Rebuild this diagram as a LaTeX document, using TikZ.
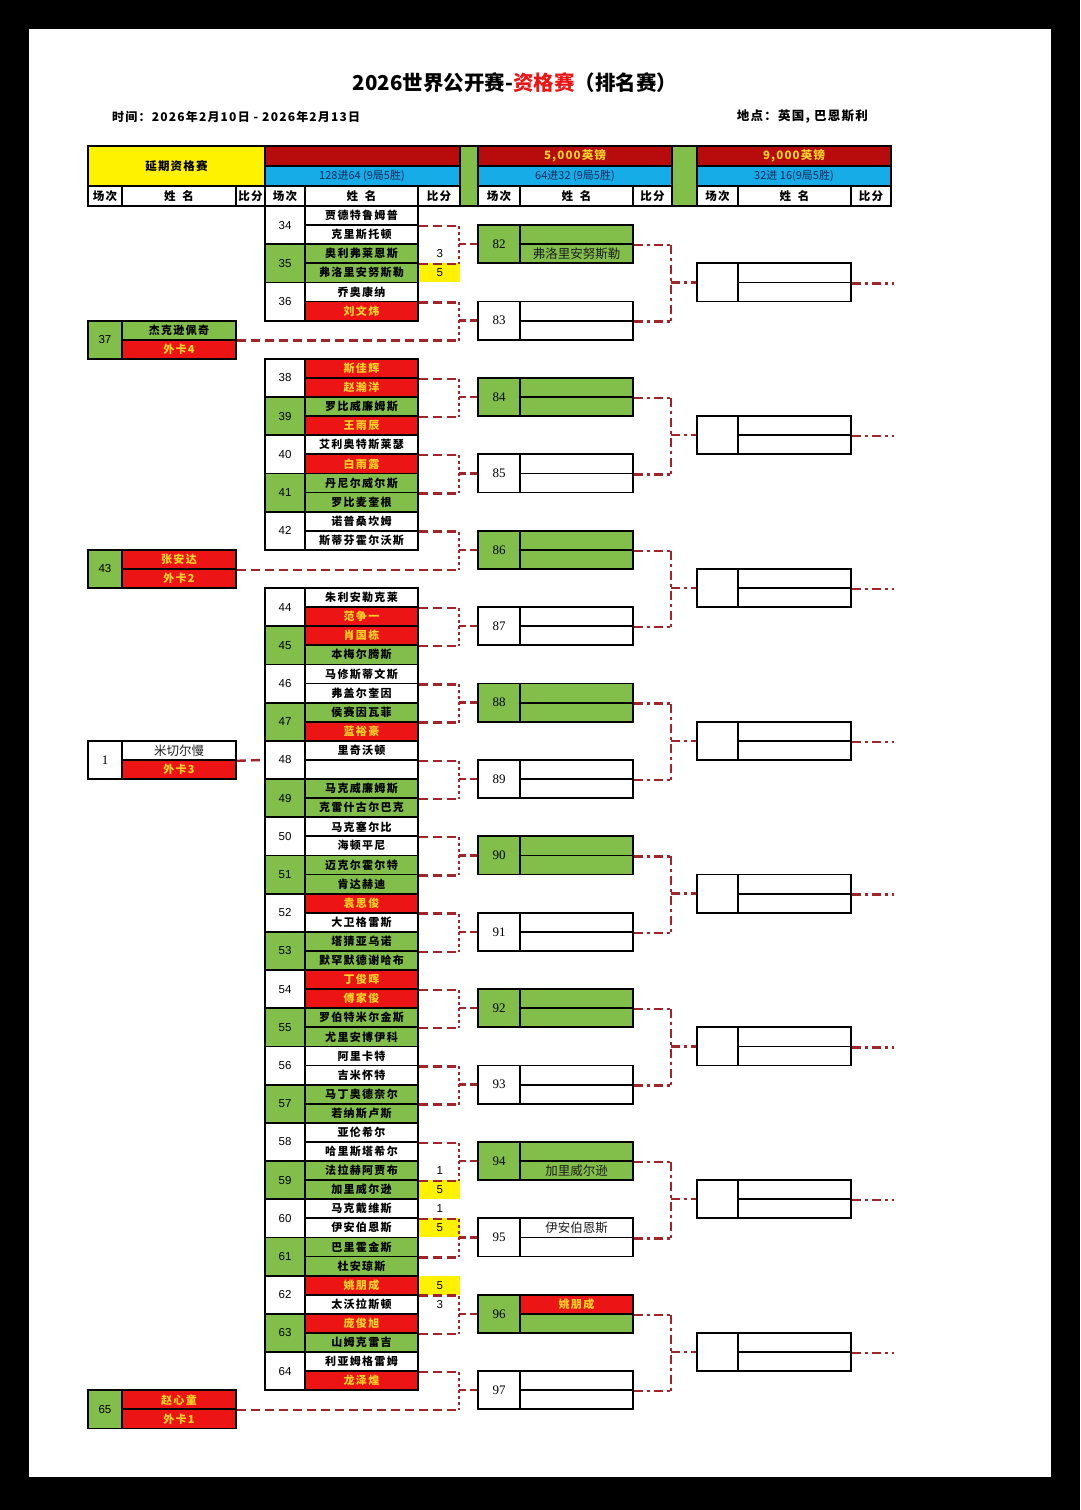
\documentclass[tikz,border=0pt]{standalone}
\usepackage{fontspec}
\setmainfont{Liberation Sans}
\newfontfamily\cjk[LetterSpace=12]{Noto Sans CJK SC}
\newfontfamily\cjkt{Noto Sans CJK SC}
\newfontfamily\cjkw[LetterSpace=10]{Noto Sans CJK SC}
\newfontfamily\sern{Liberation Serif}
\usetikzlibrary{calc}
\definecolor{cgreen}{RGB}{130,190,74}
\definecolor{cred}{RGB}{236,20,20}
\definecolor{cdred}{RGB}{184,12,12}
\definecolor{cblue}{RGB}{22,172,232}
\definecolor{cyel}{RGB}{255,242,0}
\definecolor{ctxt}{RGB}{255,212,40}
\definecolor{cline}{RGB}{160,36,40}
\definecolor{cnavy}{RGB}{20,40,90}
\newcommand\sertxt{\cjkt\mdseries\fontsize{12.5}{13}\selectfont\color{black!88}}
\tikzset{
  cell/.style={draw=black, line width=1.8pt, minimum height=19.1pt, inner sep=0pt, anchor=center,
    font=\cjk\bfseries\fontsize{11}{12}\selectfont},
  nameW/.style={cell, fill=white, minimum width=113pt},
  nameG/.style={nameW, fill=cgreen},
  nameR/.style={nameW, fill=cred, text=ctxt},
  numW/.style={cell, fill=white, minimum width=40pt, minimum height=38.2pt, font=\fontsize{11.5}{12}\selectfont},
  numG/.style={numW, fill=cgreen},
  lnumW/.style={numW, minimum width=34pt},
  lnumG/.style={lnumW, fill=cgreen},
  lnameW/.style={nameW, minimum width=114pt},
  lnameG/.style={lnameW, fill=cgreen},
  lnameR/.style={lnameW, fill=cred, text=ctxt},
  bnumW/.style={numW, minimum width=42pt, font=\sern\fontsize{13}{13}\selectfont},
  bnumG/.style={bnumW, fill=cgreen},
  bnameW/.style={nameW},
  bnameG/.style={nameG},
  bnameR/.style={nameR},
  tnum/.style={numW, minimum width=41pt},
  tname/.style={nameW},
  score/.style={inner sep=0pt, minimum width=41pt, minimum height=19.1pt, font=\fontsize{11.5}{12}\selectfont},
  scoreY/.style={score, fill=cyel},
  bd/.style={draw=black, line width=1.8pt},
  hdtxt/.style={inner sep=0pt, font=\cjkw\bfseries\fontsize{11.5}{12}\selectfont},
  subtxt/.style={inner sep=0pt, font=\cjkt\fontsize{11}{12}\selectfont, text=cnavy},
  hd/.style={draw=cline, line width=2.4pt, dash pattern=on 9pt off 5pt},
  vd/.style={draw=cline, line width=2.4pt, dash pattern=on 3pt off 3pt},
  od/.style={draw=cline, line width=2.4pt, dash pattern=on 7pt off 4pt},
  dd/.style={draw=cline, line width=2.4pt, dash pattern=on 9pt off 4pt on 3pt off 4pt},
}
\newcommand\rmatch[6]{%
  \pgfmathsetmacro\yc{206+19.1*(2*(#1-34)+1)}%
  \node[num#2] (k#1) at (285,\yc) {#1};
  \node[name#4] (n#1-1) at (361.5,\yc-9.55) {#3};
  \node[name#6] (n#1-2) at (361.5,\yc+9.55) {#5};
}
\newcommand\lmatch[6]{%
  \pgfmathsetmacro\yc{206+19.1*(2*(#1-34)+1)}%
  \node[lnum#2] (k#1) at (105,\yc) {#1};
  \node[lname#4] (n#1-1) at (179,\yc-9.55) {#3};
  \node[lname#6] (n#1-2) at (179,\yc+9.55) {#5};
}
\newcommand\rtwo[6]{%
  \pgfmathsetmacro\yc{206+19.1*(4*(#1-82)+2)}%
  \node[bnum#2] (k#1) at (499,\yc) {#1};
  \node[bname#3] (r#1-1) at (576.5,\yc-9.55) {#5};
  \node[bname#4] (r#1-2) at (576.5,\yc+9.55) {#6};
}
\begin{document}
\begin{tikzpicture}[x=1pt,y=-1pt]
\useasboundingbox (0,0) rectangle (1080,1510);
\fill[black] (0,0) rectangle (1080,1510);
\fill[white] (29,29) rectangle (1051,1477);

% title
\node (title) at (515,83) {\cjkt\bfseries\fontsize{20.5}{21}\selectfont 2026世界公开赛-\textcolor{cred}{资格赛}（排名赛）};
\node[anchor=west, inner sep=0pt] (date) at (112,117) {\cjkw\bfseries\fontsize{12}{13}\selectfont 时间：2026年2月10日 - 2026年2月13日};
\node[anchor=east, inner sep=0pt] (place) at (868,117) {\cjkw\bfseries\fontsize{12.5}{13}\selectfont 地点：英国, 巴恩斯利};

% header table
\fill[cyel] (88,146) rectangle (265,186);
\fill[cdred] (265,146) rectangle (460,166); \fill[cblue] (265,166) rectangle (460,186);
\fill[cgreen] (460,146) rectangle (478,206);
\fill[cdred] (478,146) rectangle (672,166); \fill[cblue] (478,166) rectangle (672,186);
\fill[cgreen] (672,146) rectangle (697,206);
\fill[cdred] (697,146) rectangle (891,166); \fill[cblue] (697,166) rectangle (891,186);
\draw[bd] (88,146) rectangle (891,206);
\draw[bd] (88,186) -- (460,186) (478,186) -- (672,186) (697,186) -- (891,186);
\draw[bd] (265,166) -- (460,166) (478,166) -- (672,166) (697,166) -- (891,166);
\draw[bd] (265,146) -- (265,206) (460,146) -- (460,206) (478,146) -- (478,206)
          (672,146) -- (672,206) (697,146) -- (697,206);
\draw[bd] (122,186) -- (122,206) (236,186) -- (236,206) (305,186) -- (305,206) (418,186) -- (418,206)
          (520,186) -- (520,206) (633,186) -- (633,206) (738,186) -- (738,206) (851,186) -- (851,206);
\node[hdtxt] (hq) at (176.5,166) {延期资格赛};
\node[hdtxt, text=ctxt] (hp2) at (575,156) {5,000英镑};
\node[hdtxt, text=ctxt] (hp3) at (794,156) {9,000英镑};
\node[subtxt] (hr1) at (362,176) {128进64 (9局5胜)};
\node[subtxt] (hr2) at (575,176) {64进32 (9局5胜)};
\node[subtxt] (hr3) at (794,176) {32进 16(9局5胜)};
\foreach \xa/\xb/\xc/\xd/\g in {88/122/236/265/a, 265/305/418/460/b, 478/520/633/672/c, 697/738/851/891/d}{
  \node[hdtxt] (h\g1) at ({(\xa+\xb)/2},196) {场次};
  \node[hdtxt] (h\g2) at ({(\xb+\xc)/2},196) {姓\hspace{0.6em}名};
  \node[hdtxt] (h\g3) at ({(\xc+\xd)/2},196) {比分};
}

% round of 128
\rmatch{34}{W}{贾德特鲁姆普}{W}{克里斯托顿}{W}
\rmatch{35}{G}{奥利弗莱恩斯}{G}{弗洛里安努斯勒}{G}
\rmatch{36}{W}{乔奥康纳}{W}{刘文炜}{R}
\rmatch{38}{W}{斯佳辉}{R}{赵瀚洋}{R}
\rmatch{39}{G}{罗比威廉姆斯}{G}{王雨辰}{R}
\rmatch{40}{W}{艾利奥特斯莱瑟}{W}{白雨露}{R}
\rmatch{41}{G}{丹尼尔威尔斯}{G}{罗比麦奎根}{G}
\rmatch{42}{W}{诺普桑坎姆}{W}{斯蒂芬霍尔沃斯}{W}
\rmatch{44}{W}{朱利安勒克莱}{W}{范争一}{R}
\rmatch{45}{G}{肖国栋}{R}{本梅尔腾斯}{G}
\rmatch{46}{W}{马修斯蒂文斯}{W}{弗盖尔奎因}{W}
\rmatch{47}{G}{侯赛因瓦菲}{G}{蓝裕豪}{R}
\rmatch{48}{W}{里奇沃顿}{W}{}{W}
\rmatch{49}{G}{马克威廉姆斯}{G}{克雷什古尔巴克}{G}
\rmatch{50}{W}{马克塞尔比}{W}{海顿平尼}{W}
\rmatch{51}{G}{迈克尔霍尔特}{G}{肯达赫迪}{G}
\rmatch{52}{W}{袁思俊}{R}{大卫格雷斯}{W}
\rmatch{53}{G}{塔猜亚乌诺}{G}{默罕默德谢哈布}{G}
\rmatch{54}{W}{丁俊晖}{R}{傅家俊}{R}
\rmatch{55}{G}{罗伯特米尔金斯}{G}{尤里安博伊科}{G}
\rmatch{56}{W}{阿里卡特}{W}{吉米怀特}{W}
\rmatch{57}{G}{马丁奥德奈尔}{G}{若纳斯卢斯}{G}
\rmatch{58}{W}{亚伦希尔}{W}{哈里斯塔希尔}{W}
\rmatch{59}{G}{法拉赫阿贾布}{G}{加里威尔逊}{G}
\rmatch{60}{W}{马克戴维斯}{W}{伊安伯恩斯}{W}
\rmatch{61}{G}{巴里霍金斯}{G}{杜安琼斯}{G}
\rmatch{62}{W}{姚朋成}{R}{太沃拉斯顿}{W}
\rmatch{63}{G}{庞俊旭}{R}{山姆克雷吉}{G}
\rmatch{64}{W}{利亚姆格雷姆}{W}{龙泽煌}{R}

% postponed qualifiers
\lmatch{37}{G}{杰克逊佩奇}{G}{外卡4}{R}
\lmatch{43}{G}{张安达}{R}{外卡2}{R}
\lmatch{65}{G}{赵心童}{R}{外卡1}{R}
\pgfmathsetmacro\yc{206+19.1*29}
\node[lnumW, font=\sern\fontsize{13}{13}\selectfont] (k1) at (105,\yc) {1};
\node[lnameW] (n1-1) at (179,\yc-9.55) {\sertxt 米切尔慢};
\node[lnameR] (n1-2) at (179,\yc+9.55) {外卡3};

% scores
\node[score] (s35-1) at ($(n35-1.east)+(21,0)$) {3};
\node[scoreY] (s35-2) at ($(n35-2.east)+(21,0)$) {5};
\node[score] (s59-1) at ($(n59-1.east)+(21,0)$) {1};
\node[scoreY] (s59-2) at ($(n59-2.east)+(21,0)$) {5};
\node[score] (s60-1) at ($(n60-1.east)+(21,0)$) {1};
\node[scoreY] (s60-2) at ($(n60-2.east)+(21,0)$) {5};
\node[scoreY] (s62-1) at ($(n62-1.east)+(21,0)$) {5};
\node[score] (s62-2) at ($(n62-2.east)+(21,0)$) {3};

% round of 64
\rtwo{82}{G}{G}{G}{}{\sertxt 弗洛里安努斯勒}
\rtwo{83}{W}{W}{W}{}{}
\rtwo{84}{G}{G}{G}{}{}
\rtwo{85}{W}{W}{W}{}{}
\rtwo{86}{G}{G}{G}{}{}
\rtwo{87}{W}{W}{W}{}{}
\rtwo{88}{G}{G}{G}{}{}
\rtwo{89}{W}{W}{W}{}{}
\rtwo{90}{G}{G}{G}{}{}
\rtwo{91}{W}{W}{W}{}{}
\rtwo{92}{G}{G}{G}{}{}
\rtwo{93}{W}{W}{W}{}{}
\rtwo{94}{G}{G}{G}{}{\sertxt 加里威尔逊}
\rtwo{95}{W}{W}{W}{\sertxt 伊安伯恩斯}{}
\rtwo{96}{G}{R}{G}{姚朋成}{}
\rtwo{97}{W}{W}{W}{}{}

% round of 32
\foreach \s in {1,...,8}{
  \pgfmathsetmacro\yc{206+19.1*(8*\s-4)}
  \node[tnum] (t\s) at (717.5,\yc) {};
  \node[tname] (u\s-1) at (794.5,\yc-9.55) {};
  \node[tname] (u\s-2) at (794.5,\yc+9.55) {};
}

% connectors round 1 -> round 2
\draw[hd] (n1-1.south east) -- (k48.west);
\foreach \k/\p/\q in {82/34/35, 83/36/37, 84/38/39, 85/40/41, 86/42/43, 87/44/45, 88/46/47, 89/48/49,
                      90/50/51, 91/52/53, 92/54/55, 93/56/57, 94/58/59, 95/60/61, 96/62/63, 97/64/65}{
  \coordinate (b\k) at ($(k\k.west)+(-18,0)$);
  \draw[hd] (n\p-1.south east) -- (n\p-1.south east -| b\k);
  \draw[hd] (n\q-1.south east) -- (n\q-1.south east -| b\k);
  \draw[vd] (n\p-1.south east -| b\k) -- (n\q-1.south east -| b\k);
  \draw[od] (b\k) -- (k\k.west);
}

% connectors round 2 -> round 3
\foreach \s in {1,...,8}{
  \pgfmathtruncatemacro\p{82+2*(\s-1)}
  \pgfmathtruncatemacro\q{\p+1}
  \coordinate (c\s) at ($(t\s.west)+(-25,0)$);
  \draw[dd] (r\p-1.south east) -- (r\p-1.south east -| c\s);
  \draw[dd] (r\q-1.south east) -- (r\q-1.south east -| c\s);
  \draw[dd] (r\p-1.south east -| c\s) -- (r\q-1.south east -| c\s);
  \draw[dd] (c\s) -- (t\s.west);
  \coordinate (e\s) at ($(u\s-1.south east)+(42,0)$);
  \draw[dd] (u\s-1.south east) -- (e\s);
}
\end{tikzpicture}
\end{document}
